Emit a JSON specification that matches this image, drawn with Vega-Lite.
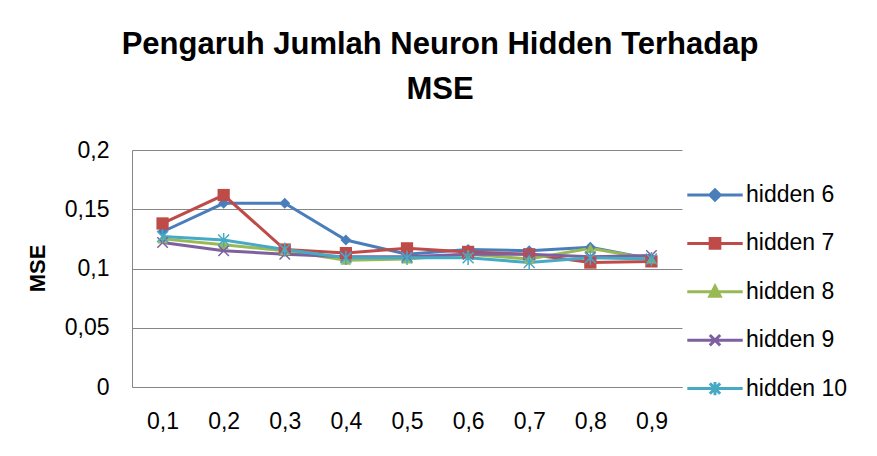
{
  "$schema": "https://vega.github.io/schema/vega-lite/v6.json",
  "autosize": "none",
  "width": 550,
  "height": 237,
  "padding": {"left": 132, "top": 150, "right": 195, "bottom": 69},
  "background": "white",
  "config": {
    "font": "Liberation Sans",
    "view": {"stroke": null},
    "axis": {"labelFont": "Liberation Sans", "labelColor": "black", "labelFontSize": 23, "gridColor": "#868686", "domainColor": "#868686", "ticks": false}
  },
  "title": {
    "text": ["Pengaruh Jumlah Neuron Hidden Terhadap", "MSE"],
    "font": "Liberation Sans",
    "fontSize": 31,
    "fontWeight": "bold",
    "color": "black",
    "lineHeight": 45,
    "anchor": "middle",
    "frame": "group",
    "dx": 33,
    "baseline": "bottom",
    "offset": 2
  },
  "data": {
    "values": [
      {"lr": "0,1", "series": "hidden 6", "mse": 0.131},
      {"lr": "0,2", "series": "hidden 6", "mse": 0.155},
      {"lr": "0,3", "series": "hidden 6", "mse": 0.155},
      {"lr": "0,4", "series": "hidden 6", "mse": 0.124},
      {"lr": "0,5", "series": "hidden 6", "mse": 0.112},
      {"lr": "0,6", "series": "hidden 6", "mse": 0.116},
      {"lr": "0,7", "series": "hidden 6", "mse": 0.115},
      {"lr": "0,8", "series": "hidden 6", "mse": 0.118},
      {"lr": "0,9", "series": "hidden 6", "mse": 0.108},
      {"lr": "0,1", "series": "hidden 7", "mse": 0.138},
      {"lr": "0,2", "series": "hidden 7", "mse": 0.162},
      {"lr": "0,3", "series": "hidden 7", "mse": 0.116},
      {"lr": "0,4", "series": "hidden 7", "mse": 0.113},
      {"lr": "0,5", "series": "hidden 7", "mse": 0.117},
      {"lr": "0,6", "series": "hidden 7", "mse": 0.114},
      {"lr": "0,7", "series": "hidden 7", "mse": 0.112},
      {"lr": "0,8", "series": "hidden 7", "mse": 0.105},
      {"lr": "0,9", "series": "hidden 7", "mse": 0.106},
      {"lr": "0,1", "series": "hidden 8", "mse": 0.125},
      {"lr": "0,2", "series": "hidden 8", "mse": 0.12},
      {"lr": "0,3", "series": "hidden 8", "mse": 0.115},
      {"lr": "0,4", "series": "hidden 8", "mse": 0.107},
      {"lr": "0,5", "series": "hidden 8", "mse": 0.108},
      {"lr": "0,6", "series": "hidden 8", "mse": 0.112},
      {"lr": "0,7", "series": "hidden 8", "mse": 0.108},
      {"lr": "0,8", "series": "hidden 8", "mse": 0.117},
      {"lr": "0,9", "series": "hidden 8", "mse": 0.108},
      {"lr": "0,1", "series": "hidden 9", "mse": 0.122},
      {"lr": "0,2", "series": "hidden 9", "mse": 0.115},
      {"lr": "0,3", "series": "hidden 9", "mse": 0.112},
      {"lr": "0,4", "series": "hidden 9", "mse": 0.11},
      {"lr": "0,5", "series": "hidden 9", "mse": 0.11},
      {"lr": "0,6", "series": "hidden 9", "mse": 0.112},
      {"lr": "0,7", "series": "hidden 9", "mse": 0.112},
      {"lr": "0,8", "series": "hidden 9", "mse": 0.11},
      {"lr": "0,9", "series": "hidden 9", "mse": 0.111},
      {"lr": "0,1", "series": "hidden 10", "mse": 0.127},
      {"lr": "0,2", "series": "hidden 10", "mse": 0.124},
      {"lr": "0,3", "series": "hidden 10", "mse": 0.116},
      {"lr": "0,4", "series": "hidden 10", "mse": 0.109},
      {"lr": "0,5", "series": "hidden 10", "mse": 0.109},
      {"lr": "0,6", "series": "hidden 10", "mse": 0.109},
      {"lr": "0,7", "series": "hidden 10", "mse": 0.105},
      {"lr": "0,8", "series": "hidden 10", "mse": 0.109},
      {"lr": "0,9", "series": "hidden 10", "mse": 0.108}
    ]
  },
  "encoding": {
    "x": {
      "field": "lr", "type": "ordinal", "sort": null,
      "scale": {"padding": 0.5},
      "axis": {"title": null, "labelAngle": 0, "labelPadding": 23, "grid": false, "domainWidth": 1}
    },
    "y": {
      "field": "mse", "type": "quantitative",
      "scale": {"domain": [0, 0.2], "nice": false, "zero": true},
      "axis": {
        "values": [0, 0.05, 0.1, 0.15, 0.2],
        "labelExpr": "replace(format(datum.value, '~g'), '.', ',')",
        "labelPadding": 23,
        "title": "MSE",
        "titleFont": "Liberation Sans",
        "titleFontSize": 22,
        "titleFontWeight": "bold",
        "titleColor": "black",
        "titleAngle": -90,
        "titleX": -95,
        "titleY": 118,
        "titleAlign": "center",
        "titleBaseline": "middle",
        "grid": true,
        "gridWidth": 1
      }
    },
    "color": {
      "field": "series", "type": "nominal", "sort": ["hidden 6", "hidden 7", "hidden 8", "hidden 9", "hidden 10"],
      "scale": {"domain": ["hidden 6", "hidden 7", "hidden 8", "hidden 9", "hidden 10"], "range": ["#4A7EBB", "#BE4B48", "#98B954", "#7D60A0", "#46AAC5"]},
      "legend": null
    }
  },
  "layer": [
    {
      "mark": {"type": "line", "strokeWidth": 3},
      "encoding": {
        "color": {
          "field": "series", "type": "nominal", "sort": ["hidden 6", "hidden 7", "hidden 8", "hidden 9", "hidden 10"],
          "scale": {"domain": ["hidden 6", "hidden 7", "hidden 8", "hidden 9", "hidden 10"], "range": ["#4A7EBB", "#BE4B48", "#98B954", "#7D60A0", "#46AAC5"]},
          "legend": {
            "orient": "none",
            "legendX": 564,
            "legendY": 26,
            "title": null,
            "padding": 0,
            "symbolSize": 1200,
            "rowPadding": 17.4,
            "labelOffset": 12,
            "labelFont": "Liberation Sans",
            "labelFontSize": 23,
            "labelColor": "black",
            "encode": {
              "symbols": {
                "update": {
                  "shape": {"signal": "datum.value == 'hidden 6' ? 'M-1.6,0L1.6,0M0,-0.3L0.3,0L0,0.3L-0.3,0Z' : datum.value == 'hidden 7' ? 'M-1.6,0L1.6,0M-0.28,-0.28L0.28,-0.28L0.28,0.28L-0.28,0.28Z' : datum.value == 'hidden 8' ? 'M-1.6,0L1.6,0M0,-0.32L0.3,0.25L-0.3,0.25Z' : datum.value == 'hidden 9' ? 'M-1.6,0L1.6,0M-0.3,-0.3L0.3,0.3M-0.3,0.3L0.3,-0.3' : 'M-1.6,0L1.6,0M-0.3,-0.3L0.3,0.3M-0.3,0.3L0.3,-0.3M0,-0.38L0,0.38'"},
                  "fill": {"scale": "color", "field": "value"},
                  "stroke": {"scale": "color", "field": "value"},
                  "strokeWidth": {"value": 3},
                  "opacity": {"value": 1},
                  "size": {"value": 1200}
                }
              }
            }
          }
        }
      }
    },
    {
      "transform": [{"filter": "datum.series == 'hidden 6'"}],
      "mark": {"type": "point", "shape": "diamond", "filled": true, "size": 120, "opacity": 1}
    },
    {
      "transform": [{"filter": "datum.series == 'hidden 7'"}],
      "mark": {"type": "point", "shape": "square", "filled": true, "size": 150, "opacity": 1}
    },
    {
      "transform": [{"filter": "datum.series == 'hidden 8'"}],
      "mark": {"type": "point", "shape": "triangle-up", "filled": true, "size": 110, "opacity": 1}
    },
    {
      "transform": [{"filter": "datum.series == 'hidden 9'"}],
      "mark": {"type": "point", "shape": "M-1,-1L1,1M-1,1L1,-1", "filled": false, "size": 110, "strokeWidth": 1.5, "opacity": 1}
    },
    {
      "transform": [{"filter": "datum.series == 'hidden 10'"}],
      "mark": {"type": "point", "shape": "M-1,-1L1,1M-1,1L1,-1M0,-1.3L0,1.3", "filled": false, "size": 120, "strokeWidth": 1.5, "opacity": 1}
    }
  ]
}
